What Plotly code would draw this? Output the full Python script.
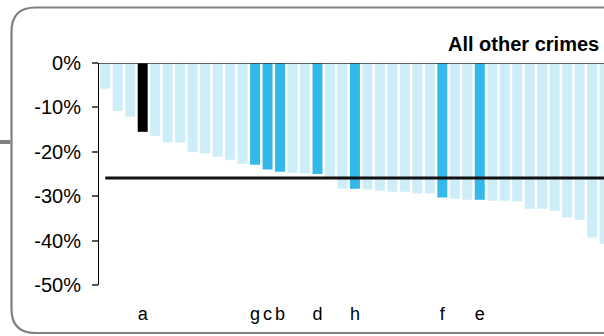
import plotly.graph_objects as go

# ---- data ----
positions = list(range(41))
values = [-5.8, -10.8, -12.1, -15.5, -16.4, -17.9, -17.9, -20.0, -20.4, -21.1,
          -21.8, -22.7, -22.9, -24.0, -24.5, -24.7, -24.9, -25.0, -25.7, -28.3,
          -28.3, -28.5, -28.8, -29.0, -29.0, -29.4, -29.4, -30.3, -30.6, -30.8,
          -30.8, -31.0, -31.0, -31.2, -32.8, -32.8, -33.3, -34.8, -35.3, -39.3,
          -40.7]
labels = ["", "", "", "a", "", "", "", "", "", "", "", "", "g", "c", "b", "", "",
          "d", "", "", "h", "", "", "", "", "", "", "f", "", "", "e", "", "", "",
          "", "", "", "", "", "", ""]
highlight = {"a": "black", "g": "mid", "c": "mid", "b": "mid", "d": "mid",
             "h": "mid", "f": "mid", "e": "mid"}
average = -25.9
y_ticks = [0, -10, -20, -30, -40, -50]
y_ticktext = ["0%", "-10%", "-20%", "-30%", "-40%", "-50%"]
title_text = "All other crimes"

LIGHT = "#CDEDF9"
MID = "#33B9E9"
BLACK = "#000000"
colors = []
for lab in labels:
    kind = highlight.get(lab)
    colors.append(BLACK if kind == "black" else MID if kind == "mid" else LIGHT)

W, H = 604, 336
ML, MR, MT, MB = 99, 0, 63, 51
PW = W - ML - MR
PH = H - MT - MB

def px(xp):
    return (xp - ML) / PW

def py(yp):
    return (H - MB - yp) / PH

fig = go.Figure()
fig.add_trace(go.Bar(x=positions, y=values, marker=dict(color=colors, line=dict(width=0)),
                     showlegend=False, hoverinfo="skip"))
fig.add_trace(go.Scatter(x=positions, y=[average] * len(positions), mode="lines",
                         line=dict(color="#111111", width=3), showlegend=False,
                         hoverinfo="skip"))

# rounded border (decoration)
x0, x1, y0, y1 = 11.5, 640, 7.5, 333
r = 24
path = (f"M {px(x0)},{py(y0 + r)} "
        f"Q {px(x0)},{py(y0)} {px(x0 + r)},{py(y0)} "
        f"L {px(x1)},{py(y0)} "
        f"M {px(x0)},{py(y0 + r)} "
        f"L {px(x0)},{py(y1 - r)} "
        f"Q {px(x0)},{py(y1)} {px(x0 + r)},{py(y1)} "
        f"L {px(x1)},{py(y1)}")
fig.add_shape(type="path", path=path, xref="paper", yref="paper",
              line=dict(color="#808080", width=2.2), layer="above")
fig.add_shape(type="line", xref="paper", yref="paper", x0=px(0), x1=px(10.5),
              y0=py(142), y1=py(142), line=dict(color="#808080", width=4))
# zero line at top
fig.add_shape(type="line", xref="paper", yref="y", x0=0, x1=1, y0=0, y1=0,
              line=dict(color="#333333", width=1.5))

fig.add_annotation(text=f"<b>{title_text}</b>", xref="paper", yref="paper",
                   x=px(446), y=py(44), xanchor="left", yanchor="middle",
                   showarrow=False, font=dict(size=20, color="black",
                                              family="Liberation Sans, Arial"))

fig.update_layout(
    width=W, height=H,
    margin=dict(l=ML, r=MR, t=MT, b=MB, pad=0),
    paper_bgcolor="white", plot_bgcolor="white",
    bargap=0.2,
    font=dict(family="Liberation Sans, Arial", size=17, color="black"),
    xaxis=dict(range=[-0.5, 39.95], tickmode="array", tickvals=positions,
               ticktext=labels, showline=False, showgrid=False, zeroline=False,
               ticks="", ticklabelstandoff=16, tickfont=dict(size=18)),
    yaxis=dict(range=[-50, 0], tickmode="array", tickvals=y_ticks,
               ticktext=y_ticktext, showline=True, linecolor="black", linewidth=1,
               ticks="outside", ticklen=6, tickcolor="#555555", tickwidth=1.5,
               ticklabelstandoff=7,
               showgrid=False, zeroline=False, tickfont=dict(size=20)),
)

fig.write_html("out.html", config={"displayModeBar": False},
               post_script="document.body.style.margin='0';document.body.style.overflow='hidden';")
